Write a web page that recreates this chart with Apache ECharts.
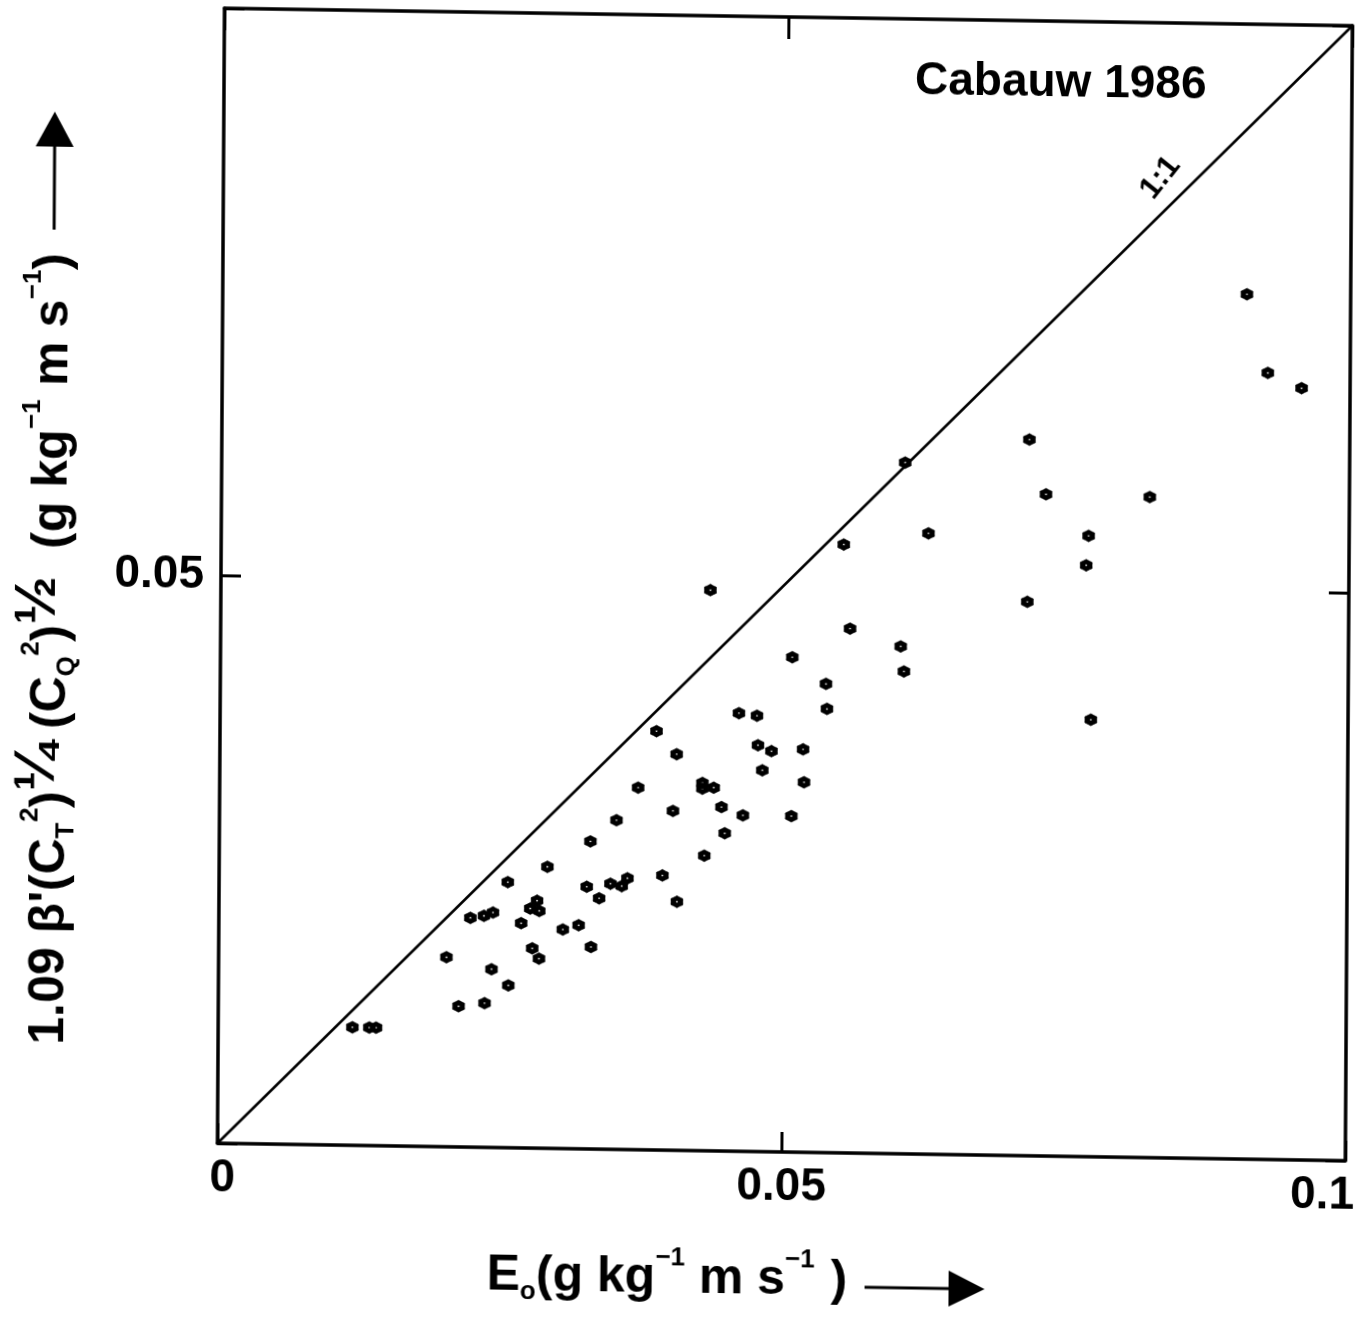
<!DOCTYPE html>
<html>
<head>
<meta charset="utf-8">
<title>Cabauw 1986</title>
<script src="https://cdn.jsdelivr.net/npm/echarts@6/dist/echarts.min.js"></script>
<style>
  html, body { margin: 0; padding: 0; background: #fff; }
  /* the printed figure is slightly sheared on the page */
  #chart {
    width: 1363px; height: 1317px;
    transform-origin: 785px 585px;
    transform: matrix(1, 0.0155, -0.0062, 1, 0, 0);
  }
</style>
</head>
<body>
<div id="chart"></div>
<script>
// Eddy-correlation evaporation E0 (g kg-1 m s-1)
const eddyFlux = [
  0.0908, 0.0927, 0.0957, 0.0716, 0.0606, 0.0731, 0.0823, 0.0627, 0.0769, 0.0552,
  0.0767, 0.0715, 0.0434, 0.0558, 0.0603, 0.0606, 0.0507, 0.0537, 0.0538, 0.0772,
  0.0460, 0.0476, 0.0387, 0.0405, 0.0477, 0.0489, 0.0517, 0.0481, 0.0371, 0.0428,
  0.0428, 0.0438, 0.0518, 0.0402, 0.0445, 0.0352, 0.0464, 0.0507, 0.0448, 0.0329,
  0.0430, 0.0291, 0.0393, 0.0362, 0.0256, 0.0326, 0.0347, 0.0357, 0.0337, 0.0406,
  0.0282, 0.0223, 0.0235, 0.0243, 0.0276, 0.0284, 0.0268, 0.0305, 0.0319, 0.0278,
  0.0330, 0.0284, 0.0202, 0.0242, 0.0257, 0.0236, 0.0213, 0.0119, 0.0134, 0.0140
];
// Scintillometer estimate 1.09 beta' (CT2)^1/4 (CQ2)^1/2
const scintFlux = [
  0.0762, 0.0693, 0.0680, 0.0631, 0.0609, 0.0583, 0.0582, 0.0547, 0.0547, 0.0536,
  0.0521, 0.0488, 0.0494, 0.0462, 0.0447, 0.0425, 0.0436, 0.0413, 0.0391, 0.0385,
  0.0386, 0.0384, 0.0369, 0.0349, 0.0358, 0.0353, 0.0355, 0.0336, 0.0319, 0.0324,
  0.0319, 0.0320, 0.0326, 0.0299, 0.0303, 0.0290, 0.0296, 0.0296, 0.0280, 0.0271,
  0.0260, 0.0248, 0.0242, 0.0239, 0.0234, 0.0231, 0.0234, 0.0232, 0.0221, 0.0219,
  0.0218, 0.0202, 0.0204, 0.0207, 0.0211, 0.0209, 0.0198, 0.0193, 0.0197, 0.0176,
  0.0178, 0.0167, 0.0167, 0.0157, 0.0143, 0.0127, 0.0124, 0.0104, 0.0104, 0.0104
];
// 1:1 reference line end points
const oneToOneX = [0, 0.1];
const oneToOneY = [0, 0.1];

const xTickValues = [0, 0.05, 0.1];
const xTickLabels = ['0', '0.05', '0.1'];
const yTickValues = [0.05];
const yTickLabels = ['0.05'];

const FONT = '"Liberation Sans", Arial, Helvetica, sans-serif';
const INK = '#000';

// six-pointed marker with a small open centre
const STAR = 'path://M10 0L14.25 2.64L18.66 5L18.5 10L18.66 15L14.25 17.36L10 20L5.75 17.36L1.34 15L1.5 10L1.34 5L5.75 2.64ZM11.8 10L10.9 8.44L9.1 8.44L8.2 10L9.1 11.56L10.9 11.56Z';

function findTick(values, v) {
  for (let i = 0; i < values.length; i++) {
    if (Math.abs(values[i] - v) < 1e-9) return i;
  }
  return -1;
}

const tickFont = { fontSize: 46, fontWeight: 'bold', fontFamily: FONT, color: INK };

function titleStyles() {
  const base = { fontFamily: FONT, fontWeight: 'bold', fill: INK };
  return {
    m: Object.assign({ fontSize: 50 }, base),
    mg: Object.assign({ fontSize: 50, padding: [0, 0, 0, 16] }, base),
    sp: Object.assign({ fontSize: 26, verticalAlign: 'top', padding: [12, 0, 0, 0] }, base),
    sb: Object.assign({ fontSize: 26, verticalAlign: 'bottom', padding: [0, 0, 16, 0] }, base),
    fr: Object.assign({ fontSize: 58, verticalAlign: 'top', padding: [3, 0, 0, 0] }, base)
  };
}

const xTitle = '{m|E}{sb|o}{m|(g kg}{sp|\u22121}{m| m s}{sp|\u22121}{mg|)}';
const yTitle = "{m|1.09 \u03b2'(C}{sb|T}{sp|2}{m|)}{fr|\u00bc}{m| (C}{sb|Q}{sp|2}{m|)}{fr|\u00bd}{m|  (g kg}{sp|\u22121}{m| m s}{sp|\u22121}{m|)}";

function frameAxis(extra) {
  return Object.assign({
    type: 'value', min: 0, max: 0.1, interval: 0.05,
    axisLine: { show: true, onZero: false, lineStyle: { color: INK, width: 3.5 } },
    axisTick: { show: true, inside: true, length: 20, lineStyle: { color: INK, width: 3 } },
    splitLine: { show: false }
  }, extra);
}

const chart = echarts.init(document.getElementById('chart'), null, { renderer: 'canvas' });

chart.setOption({
  animation: false,
  backgroundColor: '#fff',
  grid: { left: 221, top: 17, right: 14, bottom: 165, containLabel: false },
  xAxis: [
    frameAxis({
      position: 'bottom',
      axisLabel: {
        show: true, margin: 12, showMinLabel: true, showMaxLabel: true,
        formatter: function (v) {
          const i = findTick(xTickValues, v);
          return i < 0 ? '' : '{t' + i + '|' + xTickLabels[i] + '}';
        },
        rich: {
          t0: Object.assign({ padding: [0, 0, 0, 10] }, tickFont),
          t1: Object.assign({ padding: [0, 0, 0, 0] }, tickFont),
          t2: Object.assign({ padding: [0, 46, 0, 0] }, tickFont)
        }
      }
    }),
    frameAxis({
      position: 'top',
      axisTick: { show: true, inside: true, length: 22, lineStyle: { color: INK, width: 3 } },
      axisLabel: { show: false }
    })
  ],
  yAxis: [
    frameAxis({
      position: 'left',
      axisLabel: Object.assign({
        show: true, margin: 17,
        formatter: function (v) {
          const i = findTick(yTickValues, v);
          return i < 0 ? '' : yTickLabels[i];
        }
      }, tickFont)
    }),
    frameAxis({
      position: 'right',
      axisLabel: { show: false }
    })
  ],
  series: [
    {
      name: '1:1',
      type: 'line',
      data: oneToOneX.map((x, i) => [x, oneToOneY[i]]),
      showSymbol: false, symbol: 'none', silent: true,
      lineStyle: { color: INK, width: 2.5 },
      z: 2
    },
    {
      name: 'Cabauw 1986',
      type: 'scatter',
      data: eddyFlux.map((x, i) => [x, scintFlux[i]]),
      symbol: STAR,
      symbolSize: 12,
      itemStyle: { color: '#000', opacity: 1, borderColor: '#000', borderWidth: 0.6 },
      z: 3
    }
  ],
  graphic: [
    {
      type: 'text', x: 912, y: 79,
      style: {
        text: 'Cabauw 1986', fill: INK,
        fontSize: 46, fontWeight: 'bold', fontFamily: FONT,
        align: 'left', verticalAlign: 'middle',
        textAlign: 'left', textVerticalAlign: 'middle'
      }
    },
    {
      type: 'text', x: 1158, y: 172, rotation: 52 * Math.PI / 180,
      style: {
        text: '1:1', fill: INK,
        fontSize: 31, fontWeight: 'bold', fontFamily: FONT,
        align: 'center', verticalAlign: 'middle',
        textAlign: 'center', textVerticalAlign: 'middle'
      }
    },
    {
      type: 'text', x: 491, y: 1280,
      style: {
        text: xTitle, rich: titleStyles(), lineHeight: 90,
        fontSize: 50, fontWeight: 'bold', fontFamily: FONT, fill: INK,
        align: 'left', verticalAlign: 'middle',
        textAlign: 'left', textVerticalAlign: 'middle'
      }
    },
    {
      type: 'line',
      shape: { x1: 869, y1: 1286, x2: 958, y2: 1286 },
      style: { stroke: INK, lineWidth: 3 }
    },
    {
      type: 'polygon',
      shape: { points: [[953, 1268], [989, 1286], [953, 1304]] },
      style: { fill: INK }
    },
    {
      type: 'text', x: 52, y: 1056, rotation: Math.PI / 2,
      style: {
        text: yTitle, rich: titleStyles(), lineHeight: 90,
        fontSize: 50, fontWeight: 'bold', fontFamily: FONT, fill: INK,
        align: 'left', verticalAlign: 'middle',
        textAlign: 'left', textVerticalAlign: 'middle'
      }
    },
    {
      type: 'line',
      shape: { x1: 52, y1: 241, x2: 52, y2: 152 },
      style: { stroke: INK, lineWidth: 3 }
    },
    {
      type: 'polygon',
      shape: { points: [[33, 158], [52, 123], [71, 158]] },
      style: { fill: INK }
    }
  ]
});
</script>
</body>
</html>
